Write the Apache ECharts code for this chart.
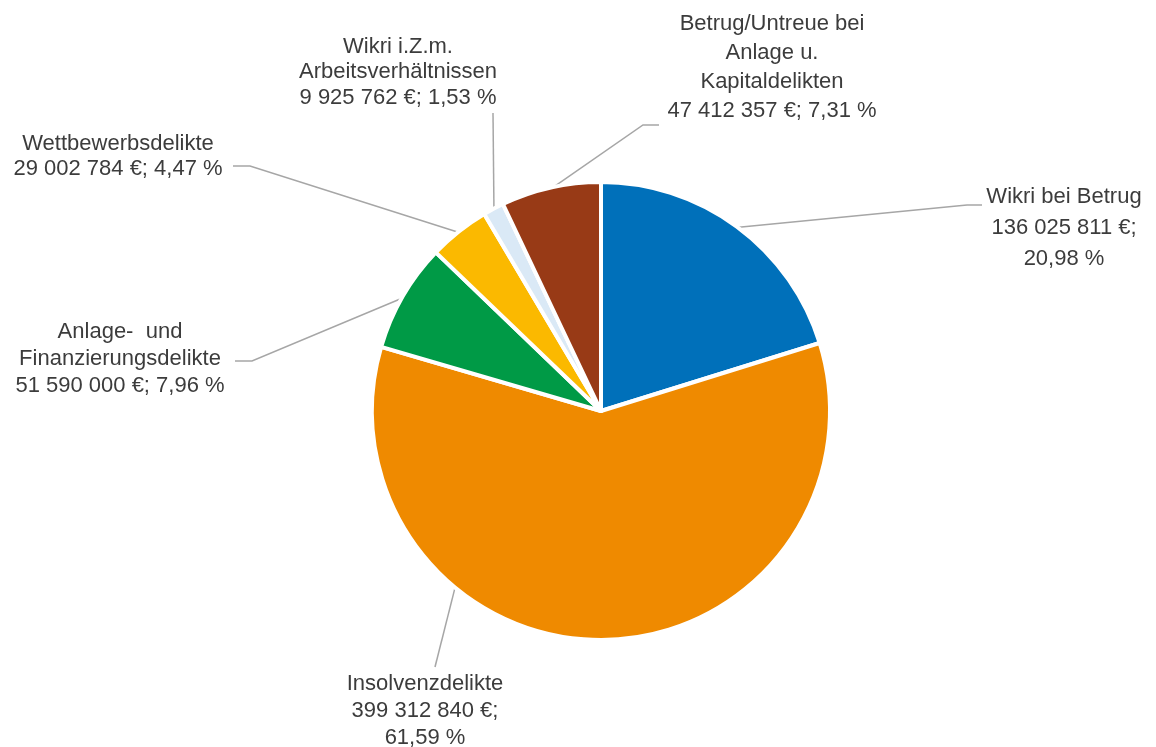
<!DOCTYPE html>
<html>
<head>
<meta charset="utf-8">
<script src="https://cdn.jsdelivr.net/npm/echarts@6/dist/echarts.min.js"></script>
<style>
html,body{margin:0;padding:0;background:#ffffff;}
#chart{width:1156px;height:747px;}
</style>
</head>
<body>
<div id="chart"></div>
<script>
// ---- data ----
const categories = [
  'Wikri bei Betrug',
  'Insolvenzdelikte',
  'Anlage-  und\nFinanzierungsdelikte',
  'Wettbewerbsdelikte',
  'Wikri i.Z.m.\nArbeitsverhältnissen',
  'Betrug/Untreue bei\nAnlage u.\nKapitaldelikten'
];
const amounts = [136025811, 399312840, 51590000, 29002784, 9925762, 47412357];
const percentLabels = ['20,98 %', '61,59 %', '7,96 %', '4,47 %', '1,53 %', '7,31 %'];
const sliceColors = ['#0070BA', '#EF8A00', '#009A46', '#FBB900', '#DAE9F6', '#983A16'];

// ---- layout (positions, not data) ----
const CX = 601, CY = 411, R = 229, R_EDGE = 228;
const labelLayoutCfg = [
  { x: 1064, y: 228, lh: 31, breakPct: true,  angle: 36.4,  elbow: [967, 205], end: [982, 205] },
  { x: 425,  y: 711, lh: 27, breakPct: true,  angle: 219.7, elbow: [435, 667], end: [435, 667] },
  { x: 120,  y: 359, lh: 27, breakPct: false, angle: 299.8, elbow: [252, 361], end: [235, 361] },
  { x: 118,  y: 156, lh: 25, breakPct: false, angle: 321.5, elbow: [250, 166], end: [233, 166] },
  { x: 398,  y: 72,  lh: 25.5, breakPct: false, angle: 332.0, elbow: [493, 113], end: [493, 113] },
  { x: 772,  y: 67,  lh: 29, breakPct: false, angle: 347.5, elbow: [643, 125], end: [659, 125] }
];

function fmtAmount(v) {
  return String(v).replace(/\B(?=(\d{3})+(?!\d))/g, ' ') + ' €;';
}

const seriesData = categories.map(function (name, i) {
  const cfg = labelLayoutCfg[i];
  return {
    name: name,
    value: amounts[i],
    itemStyle: { color: sliceColors[i] },
    label: {
      lineHeight: cfg.lh,
      formatter: name + '\n' + fmtAmount(amounts[i]) + (cfg.breakPct ? '\n' : ' ') + percentLabels[i]
    }
  };
});

const chart = echarts.init(document.getElementById('chart'), null, { renderer: 'canvas' });
chart.setOption({
  animation: false,
  backgroundColor: '#ffffff',
  series: [{
    type: 'pie',
    center: [CX, CY],
    radius: R,
    startAngle: 90,
    clockwise: true,
    avoidLabelOverlap: false,
    itemStyle: { borderColor: '#ffffff', borderWidth: 4 },
    label: {
      show: true,
      position: 'outside',
      color: '#3C3C3C',
      fontFamily: 'Liberation Sans, Arial, sans-serif',
      fontSize: 22,
      align: 'center'
    },
    labelLine: {
      show: true,
      lineStyle: { color: '#A6A6A6', width: 1.5 }
    },
    labelLayout: function (p) {
      const cfg = labelLayoutCfg[p.dataIndex];
      const a = cfg.angle * Math.PI / 180;
      const start = [CX + R_EDGE * Math.sin(a), CY - R_EDGE * Math.cos(a)];
      return {
        x: cfg.x,
        y: cfg.y,
        align: 'center',
        verticalAlign: 'middle',
        labelLinePoints: [start, cfg.elbow, cfg.end]
      };
    },
    emphasis: { disabled: true },
    data: seriesData
  }]
});
</script>
</body>
</html>
